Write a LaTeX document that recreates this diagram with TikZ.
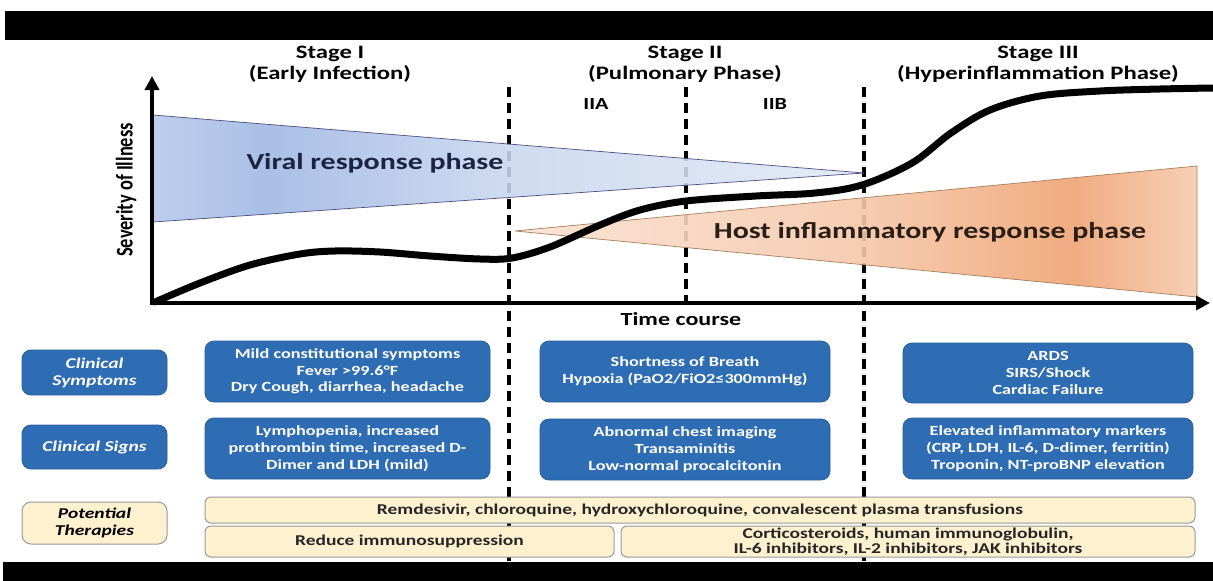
\documentclass[tikz,border=0pt]{standalone}
\usepackage{fontspec}
\usepackage{graphicx}
\setmainfont{Carlito}[FakeStretch=1.3]
\newfontfamily\plaincf{Carlito}
\usetikzlibrary{arrows.meta}
\definecolor{boxblue}{HTML}{2E6CB4}
\definecolor{boxedge}{HTML}{2A5E9C}
\definecolor{thfill}{HTML}{FDF1CF}
\definecolor{thedge}{HTML}{9A9A9A}
\definecolor{bl1}{HTML}{B5C8EA}
\definecolor{bl2}{HTML}{9FB7E3}
\definecolor{bl3}{HTML}{C9D7EF}
\definecolor{bl4}{HTML}{E2E9F6}
\definecolor{or1}{HTML}{FAE2D4}
\definecolor{or2}{HTML}{F6C8AB}
\definecolor{or3}{HTML}{EFA474}
\definecolor{or4}{HTML}{F6CBAE}
\definecolor{navytext}{HTML}{1B2440}
\definecolor{browntext}{HTML}{2A1E18}
\pgfdeclarehorizontalshading{blueshade}{100bp}{color(0bp)=(bl1); color(25bp)=(bl1); color(33bp)=(bl2); color(50bp)=(bl3); color(75bp)=(bl4); color(100bp)=(bl4)}
\pgfdeclarehorizontalshading{orangeshade}{100bp}{color(0bp)=(or1); color(25bp)=(or1); color(50bp)=(or2); color(66bp)=(or3); color(75bp)=(or4); color(100bp)=(or4)}
\tikzset{
  bluebox/.style={draw=boxedge, line width=0.8pt, fill=boxblue, rounded corners=9pt, text=white, align=center, inner sep=0pt, font=\bfseries\fontsize{14}{16.7}\selectfont},
  labelbox/.style={bluebox, font=\bfseries\itshape\fontsize{15}{17}\selectfont},
  therapylabel/.style={draw=thedge, line width=1pt, fill=thfill, rounded corners=9pt, text=black, align=center, inner sep=0pt, font=\bfseries\itshape\fontsize{15}{17}\selectfont},
  therapybox/.style={draw=thedge, line width=1pt, fill=thfill, rounded corners=6pt, text=black!85, align=center, inner sep=0pt, font=\bfseries\fontsize{15}{15.5}\selectfont},
  heading/.style={align=center, font=\bfseries\fontsize{19}{21}\selectfont},
  stagedash/.style={line width=3.4pt, dash pattern=on 10pt off 6pt},
  axisline/.style={line width=4pt, {Triangle[length=14pt,width=14pt]}-{Triangle[length=14pt,width=14pt]}},
  curve/.style={line width=7pt, line cap=round, line join=round},
  phase/.style={font=\bfseries\fontsize{23}{26}\selectfont}
}
\begin{document}
\begin{tikzpicture}[x=1pt,y=-1pt]
\useasboundingbox (0,0) rectangle (1213,581);
\fill[white] (0,0) rectangle (1213,581);
% black bands
\fill[black] (5,11) rectangle (1213,40);
\fill[black] (3,562) rectangle (1213,581);
% headings
\node[heading] (st1) at (330,64.5) {Stage I\\(Early Infection)};
\node[heading] (st2) at (685,64.5) {Stage II\\(Pulmonary Phase)};
\node[heading] (st3) at (1038,64.5) {Stage III\\(Hyperinflammation Phase)};
\node[font=\bfseries\fontsize{17}{19}\selectfont] (iia) at (596,104) {IIA};
\node[font=\bfseries\fontsize{17}{19}\selectfont] (iib) at (775,104) {IIB};
% dashed stage lines
\coordinate (d1a) at (509,87); \coordinate (d1b) at (509,562);
\coordinate (d2a) at (686,87); \coordinate (d2b) at (686,303);
\coordinate (d3a) at (864,87); \coordinate (d3b) at (864,562);
\draw[stagedash] (d1a) -- (d1b);
\draw[stagedash] (d2a) -- (d2b);
\draw[stagedash] (d3a) -- (d3b);
% phase wedges
\shade[shading=blueshade, fill opacity=0.88] (153,115) -- (864,173) -- (153,222) -- cycle;
\draw[draw=black!45!blue!40!gray, line width=0.7pt] (153,115) -- (864,173) -- (153,222);
\shade[shading=orangeshade, fill opacity=0.9] (515,231) -- (1197,166) -- (1197,297) -- cycle;
\draw[draw=brown!60!gray, line width=0.7pt] (515,231) -- (1197,166) -- (1197,297) -- cycle;
\node[phase, text=navytext] (viral) at (375,163) {Viral response phase};
\node[phase, text=browntext] (host) at (930,232) {Host inflammatory response phase};
% axes
\coordinate (ytop) at (152,76);
\coordinate (orig) at (152,303);
\coordinate (xend) at (1210,303);
\draw[axisline, line join=miter] (ytop) -- (orig) -- (xend);
\node (sev) at (126,190) {\scalebox{1.3}[1]{\rotatebox{90}{\plaincf\bfseries\fontsize{18.4}{20}\selectfont Severity of Illness}}};
\node[font=\bfseries\fontsize{18.5}{20}\selectfont] (time) at (681,319) {Time course};
% severity curve
\draw[curve] plot[smooth, tension=0.55] coordinates {(155,302) (200,283) (250,265) (300,254) (335,251) (380,252) (430,256) (480,259) (512,258) (550,247) (600,225) (640,210) (686,201) (756,196) (815,193) (862,185) (912,163) (951,133) (990,110) (1040,96) (1100,91) (1160,89) (1213,88)};
% row labels
\node[labelbox, minimum width=145pt, minimum height=45pt] (lsym) at (94.5,372.5) {Clinical\\Symptoms};
\node[labelbox, minimum width=145pt, minimum height=44pt] (lsig) at (94.5,447) {Clinical Signs};
\node[therapylabel, minimum width=145pt, minimum height=42pt] (lthe) at (94.5,523) {Potential\\Therapies};
% stage boxes
\node[bluebox, minimum width=285pt, minimum height=61pt] (sym1) at (347.5,371.5) {Mild constitutional symptoms\\Fever >99.6°F\\Dry Cough, diarrhea, headache};
\node[bluebox, minimum width=285pt, minimum height=61pt] (sig1) at (347.5,448.5) {Lymphopenia, increased\\prothrombin time, increased D-\\Dimer and LDH (mild)};
\node[bluebox, minimum width=290pt, minimum height=61pt] (sym2) at (685,371.5) {Shortness of Breath\\Hypoxia (PaO2/FiO2≤300mmHg)};
\node[bluebox, minimum width=290pt, minimum height=61pt] (sig2) at (685,449.5) {Abnormal chest imaging\\Transaminitis\\Low-normal procalcitonin};
\node[bluebox, minimum width=290pt, minimum height=60pt] (sym3) at (1048,373) {ARDS\\SIRS/Shock\\Cardiac Failure};
\node[bluebox, minimum width=290pt, minimum height=61pt] (sig3) at (1048,448.5) {Elevated inflammatory markers\\(CRP, LDH, IL-6, D-dimer, ferritin)\\Troponin, NT-proBNP elevation};
% therapies
\node[therapybox, minimum width=990pt, minimum height=26pt] (th1) at (700,510) {Remdesivir, chloroquine, hydroxychloroquine, convalescent plasma transfusions};
\node[therapybox, minimum width=409pt, minimum height=31pt] (th2) at (409.5,541.5) {Reduce immunosuppression};
\node[therapybox, minimum width=574pt, minimum height=31pt] (th3) at (908,541.5) {Corticosteroids, human immunoglobulin,\\IL-6 inhibitors, IL-2 inhibitors, JAK inhibitors};
\end{tikzpicture}
\end{document}
